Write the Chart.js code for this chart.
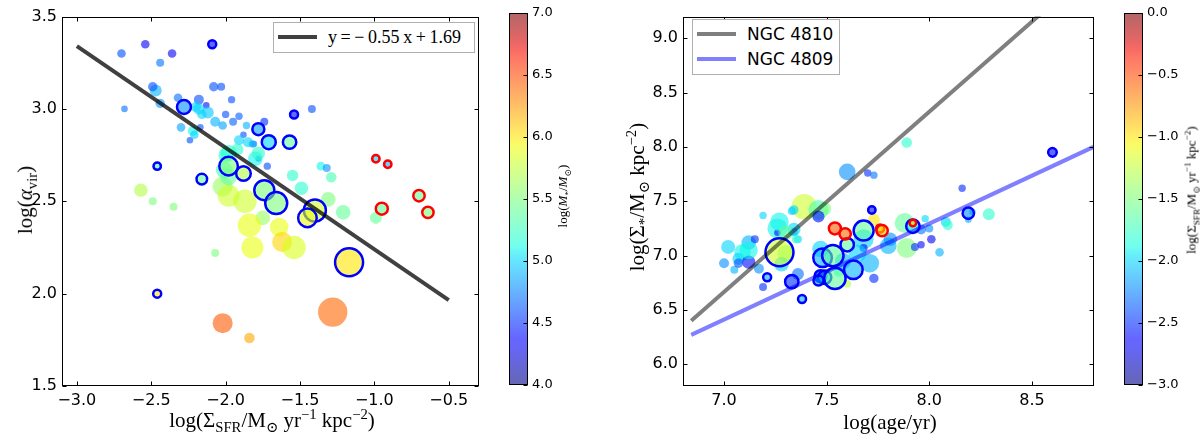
<!DOCTYPE html>
<html>
<head>
<meta charset="utf-8">
<script src="https://cdn.jsdelivr.net/npm/chart.js@4.4.1/dist/chart.umd.min.js"></script>
<style>
  html, body { margin: 0; padding: 0; background: #fff; }
  #fig { position: relative; width: 1200px; height: 436px; overflow: hidden; }
  canvas { position: absolute; top: 0; }
  .lbl { position: absolute; font-family: "Liberation Serif", "DejaVu Serif", serif; color: #000; white-space: nowrap; transform: translate(-50%, -50%); }
  .rot { transform: translate(-50%, -50%) rotate(-90deg); }
  .lbl sub, .lbl sup { font-size: 70%; }
  .legend { position: absolute; background: #fff; border: 1px solid #b0b0b0; box-sizing: border-box; }
  .legend .row { position: absolute; left: 0; right: 0; height: 20px; }
  .legend .swatch { position: absolute; left: 4px; width: 39px; height: 4px; top: 8px; }
  .legend .txt { position: absolute; left: 54px; top: 0; line-height: 20px; white-space: nowrap; }
</style>
</head>
<body>
<div id="fig">
  <canvas id="c1" width="495" height="436" style="left:0px"></canvas>
  <canvas id="cb1" width="105" height="436" style="left:495px"></canvas>
  <canvas id="c2" width="510" height="436" style="left:600px"></canvas>
  <canvas id="cb2" width="90" height="436" style="left:1110px"></canvas>

  <div class="lbl" style="left:272px; top:421px; font-size:21px">log(&Sigma;<sub>SFR</sub>/M<sub>&#8857;</sub> yr<sup>&minus;1</sup> kpc<sup>&minus;2</sup>)</div>
  <div class="lbl rot" style="left:27px; top:200px; font-size:21px">log(<i>&alpha;</i><sub>vir</sub>)</div>
  <div class="lbl rot" style="left:564px; top:196px; font-size:13px">log(<i>M</i><sub>*</sub>/<i>M</i><sub>&#8857;</sub>)</div>

  <div class="lbl" style="left:890px; top:422px; font-size:21px">log(age/yr)</div>
  <div class="lbl rot" style="left:638px; top:197px; font-size:21px">log(&Sigma;<sub>*</sub>/M<sub>&#8857;</sub> kpc<sup>&minus;2</sup>)</div>
  <div class="lbl rot" style="left:1192px; top:190px; font-size:13px">log(&Sigma;<sub>SFR</sub>/M<sub>&#8857;</sub> yr<sup>&minus;1</sup> kpc<sup>&minus;2</sup>)</div>

  <div class="legend" style="left:273px; top:22px; width:202px; height:31px">
    <div class="row" style="top:4px">
      <div class="swatch" style="background:rgba(0,0,0,0.75)"></div>
      <div class="txt" style="font-family:'Liberation Serif',serif; font-size:18px">y&thinsp;=&thinsp;&minus;&thinsp;0.55&thinsp;x&thinsp;+&thinsp;1.69</div>
    </div>
  </div>
  <div class="legend" style="left:692px; top:19px; width:148px; height:56px">
    <div class="row" style="top:4px">
      <div class="swatch" style="background:rgba(0,0,0,0.5)"></div>
      <div class="txt" style="font-family:'DejaVu Sans',sans-serif; font-size:17px">NGC 4810</div>
    </div>
    <div class="row" style="top:29px">
      <div class="swatch" style="background:rgba(0,0,255,0.5)"></div>
      <div class="txt" style="font-family:'DejaVu Sans',sans-serif; font-size:17px">NGC 4809</div>
    </div>
  </div>
</div>

<script>
// ---- left panel: virial parameter vs SFR surface density ----
// edge: 0 = none, 1 = blue ring, 2 = red ring
const sfrX = [-2.70,-2.54,-2.36,-2.44,-2.47,-2.49,-2.68,-2.44,-2.08,-2.03,-1.96,-2.32,-2.18,-2.13,-2.20,-2.12,-2.16,-2.07,-2.02,-2.00,
  -1.95,-1.91,-1.74,-1.86,-2.30,-2.22,-2.17,-2.24,-2.21,-2.18,-1.88,-1.81,-1.85,-1.91,-1.82,-1.92,-2.00,-1.78,-1.80,-1.72,
  -1.78,-1.98,-1.42,-1.36,-1.32,-1.29,-1.55,-1.49,-1.31,-1.21,-0.99,-2.57,-2.49,-2.35,-2.02,-1.98,-1.87,-2.01,-1.98,-1.75,
  -1.84,-1.64,-1.62,-1.82,-1.54,-2.07,-2.02,-1.84,-1.28,
  -2.09,-2.28,-1.78,-1.71,-1.57,-1.54,-2.46,-2.16,-1.98,-1.88,-1.74,-1.66,-1.40,-1.45,-2.46,-1.17,
  -0.99,-0.91,-0.95,-0.70,-0.64];
const alphaVir = [3.30,3.35,3.30,3.25,3.10,3.12,3.00,3.03,3.12,3.12,3.05,3.06,3.05,3.02,3.01,2.98,2.97,2.93,2.91,2.97,
  2.93,2.96,2.93,2.91,2.90,2.88,2.90,2.83,2.86,3.00,2.86,2.81,2.82,2.83,2.81,2.78,2.75,2.73,2.73,2.69,
  2.76,2.76,3.00,2.69,2.68,2.63,2.64,2.57,2.51,2.44,2.41,2.56,2.50,2.47,2.58,2.53,2.50,2.67,2.63,2.41,
  2.37,2.36,2.28,2.25,2.25,2.22,1.84,1.76,1.90,
  3.35,3.01,2.89,2.82,2.82,2.97,2.69,2.62,2.69,2.65,2.56,2.49,2.45,2.41,2.00,2.17,
  2.73,2.70,2.46,2.53,2.44];
const massL = [4.6,4.3,4.3,4.7,4.9,4.6,4.7,4.8,4.6,4.6,4.6,4.7,4.6,4.4,5.0,4.95,5.0,4.9,4.85,4.6,
  4.65,4.65,4.5,4.9,4.85,5.1,4.6,4.6,5.0,5.0,4.6,4.7,5.0,5.0,4.9,5.2,5.2,4.6,5.1,4.6,
  5.2,5.2,4.6,5.1,4.8,5.3,5.2,5.2,5.5,5.4,5.4,5.7,5.5,5.5,5.6,5.8,5.8,5.3,5.4,5.6,
  5.9,5.9,6.05,5.9,5.85,5.5,6.45,6.2,6.4,
  4.3,4.8,4.85,5.0,5.4,4.4,5.3,5.4,5.5,5.7,5.5,5.5,5.8,5.9,6.0,6.0,
  5.0,4.9,5.4,5.4,5.5];
const bubbleL = [4.3,4.3,4.3,4.0,6.0,4.7,3.3,4.7,4.7,4.0,3.7,4.3,5.0,3.3,5.0,6.0,4.7,5.0,4.3,3.7,
  4.0,3.7,4.0,3.7,4.3,5.0,3.3,3.3,4.3,5.7,3.3,3.3,5.0,5.0,3.7,6.0,7.3,3.0,7.3,3.7,
  6.7,8.3,4.0,4.3,4.0,5.3,5.7,6.7,7.3,7.3,6.0,6.7,4.0,4.0,10.0,11.0,11.7,8.3,8.3,7.3,
  11.7,9.3,10.0,11.0,11.7,4.0,10.0,5.3,14.7,
  4.0,7.0,6.0,7.0,6.7,4.0,3.7,5.3,9.3,7.3,10.0,11.0,11.0,9.3,4.0,14.0,
  3.7,3.7,6.0,5.7,5.7];
const edgeL = [0,0,0,0,0,0,0,0,0,0,0,0,0,0,0,0,0,0,0,0,
  0,0,0,0,0,0,0,0,0,0,0,0,0,0,0,0,0,0,0,0,
  0,0,0,0,0,0,0,0,0,0,0,0,0,0,0,0,0,0,0,0,
  0,0,0,0,0,0,0,0,0,
  1,1,1,1,1,1,1,1,1,1,1,1,1,1,1,1,
  2,2,2,2,2];
const fitSlope = -0.55, fitIntercept = 1.69;
const fitRange = [-3.0, -0.5];
const xTicksL = [-3.0, -2.5, -2.0, -1.5, -1.0, -0.5];
const yTicksL = [1.5, 2.0, 2.5, 3.0, 3.5];
const cbTicksL = [4.0, 4.5, 5.0, 5.5, 6.0, 6.5, 7.0];

// ---- right panel: stellar surface density vs age ----
const ageX = [7.60,7.70,7.73,7.39,7.46,7.49,7.46,7.34,7.19,7.26,7.34,7.36,7.26,7.12,7.15,7.09,7.30,7.07,7.05,7.12,
  7.17,7.19,7.36,7.73,7.68,7.56,7.60,7.73,7.68,7.80,7.81,7.88,7.89,8.16,8.21,8.19,8.29,7.98,8.00,7.96,
  7.96,8.01,7.93,8.08,8.09,8.05,7.71,7.33,7.34,7.35,7.27,7.30,7.28,7.47,7.89,7.07,
  7.02,7.12,7.58,7.65,7.00,
  7.27,7.21,7.33,7.38,7.72,7.68,7.60,7.48,7.53,7.47,7.49,7.46,7.54,7.63,7.92,8.19,8.60,
  7.54,7.59,7.76,7.77,7.92];
const sigmaStar = [7.77,7.76,7.74,7.45,7.42,7.43,7.36,7.42,7.37,7.25,7.24,7.15,7.21,7.12,7.15,7.03,7.02,6.97,6.87,6.94,
  6.88,6.71,6.83,7.33,7.15,6.85,6.74,6.79,7.07,7.09,7.15,7.30,7.07,7.62,7.40,7.33,7.38,7.34,7.25,7.24,
  7.10,7.15,7.08,7.31,7.28,7.03,6.93,7.41,7.22,7.15,7.31,7.21,6.92,7.06,8.04,6.93,
  7.08,7.05,6.95,7.02,6.93,
  7.03,6.80,6.76,6.60,7.42,7.23,7.10,6.98,7.00,6.81,6.80,6.77,6.79,6.87,7.27,7.39,7.95,
  7.25,7.20,7.25,7.23,7.30];
const sfrR = [-2.2,-2.5,-2.3,-1.2,-1.7,-1.5,-2.6,-2.0,-2.0,-1.9,-2.0,-2.0,-2.6,-2.1,-2.5,-1.9,-1.5,-2.0,-2.1,-2.6,
  -2.2,-2.5,-2.3,-1.0,-2.0,-1.8,-1.3,-2.5,-2.6,-2.1,-2.2,-1.6,-1.5,-2.5,-2.1,-2.1,-1.8,-2.0,-2.2,-2.3,
  -2.6,-2.7,-2.5,-2.0,-1.8,-2.1,-2.1,-2.0,-2.1,-1.8,-1.9,-1.6,-2.0,-2.0,-1.8,-2.4,
  -2.0,-1.9,-2.1,-2.0,-2.2,
  -1.2,-2.1,-2.5,-2.1,-2.6,-1.6,-1.6,-2.1,-1.6,-2.1,-2.0,-2.2,-1.6,-2.1,-1.9,-2.2,-2.6,
  -0.55,-0.6,-1.0,-0.9,-1.0];
const bubbleR = [8.3,3.7,3.7,12.7,10.0,6.7,6.0,4.7,3.7,10.0,6.7,4.0,3.3,7.3,4.0,8.3,8.3,6.0,4.0,6.7,
  5.0,4.0,6.0,6.0,10.0,5.0,4.0,4.7,4.0,8.3,6.7,10.0,10.0,3.7,3.3,3.3,6.0,3.7,4.0,5.0,
  3.7,4.3,4.0,5.0,5.0,4.3,9.3,4.0,4.0,4.0,9.3,7.3,7.3,8.3,5.3,4.7,
  7.0,9.0,8.0,9.0,5.0,
  14.0,4.0,6.7,4.0,3.7,10.0,6.7,9.3,10.7,6.0,6.7,5.0,10.7,9.3,6.7,5.7,4.3,
  6.0,5.7,4.0,5.7,3.3];
const edgeR = [0,0,0,0,0,0,0,0,0,0,0,0,0,0,0,0,0,0,0,0,
  0,0,0,0,0,0,0,0,0,0,0,0,0,0,0,0,0,0,0,0,
  0,0,0,0,0,0,0,0,0,0,0,0,0,0,0,0,
  0,0,0,0,0,
  1,1,1,1,1,1,1,1,1,1,1,1,1,1,1,1,1,
  2,2,2,2,2];
const ngc4810X = [6.84, 8.80], ngc4810Y = [6.40, 9.65];
const ngc4809X = [6.84, 8.80], ngc4809Y = [6.27, 8.00];
const xTicksR = [7.0, 7.5, 8.0, 8.5];
const yTicksR = [6.0, 6.5, 7.0, 7.5, 8.0, 8.5, 9.0];
const cbTicksR = [-3.0, -2.5, -2.0, -1.5, -1.0, -0.5, 0.0];

// matplotlib "jet" segments
const jetSeg = {
  r: [[0,0],[0.35,0],[0.66,1],[0.89,1],[1,0.5]],
  g: [[0,0],[0.125,0],[0.375,1],[0.64,1],[0.91,0],[1,0]],
  b: [[0,0.5],[0.11,1],[0.34,1],[0.65,0],[1,0]]
};
function segVal(seg, t) {
  for (let i = 1; i < seg.length; i++) {
    if (t <= seg[i][0]) {
      const [x0, y0] = seg[i - 1], [x1, y1] = seg[i];
      return y0 + (y1 - y0) * (t - x0) / (x1 - x0);
    }
  }
  return seg[seg.length - 1][1];
}
function jet(t, a) {
  t = Math.max(0, Math.min(1, t));
  const r = Math.round(segVal(jetSeg.r, t) * 255);
  const g = Math.round(segVal(jetSeg.g, t) * 255);
  const b = Math.round(segVal(jetSeg.b, t) * 255);
  return `rgba(${r},${g},${b},${a})`;
}
const fmt = v => (v < 0 ? '\u2212' : '') + Math.abs(v).toFixed(1);

Chart.defaults.font.family = "'DejaVu Sans', sans-serif";
Chart.defaults.color = '#000';

// frame + inward ticks like matplotlib
const frameTicks = {
  id: 'frameTicks',
  afterDatasetsDraw(chart, args, opts) {
    const { ctx, chartArea: a } = chart;
    const L = Math.round(a.left) + 0.5, R = Math.round(a.right) - 0.5;
    const T = Math.round(a.top) + 0.5, B = Math.round(a.bottom) - 0.5;
    ctx.save();
    ctx.strokeStyle = '#000';
    ctx.lineWidth = 1;
    ctx.beginPath();
    const len = 4;
    if (opts.xTicks) {
      const xs = chart.scales.x;
      opts.xTicks.forEach(v => {
        const p = Math.round(xs.getPixelForValue(v)) + 0.5;
        ctx.moveTo(p, B); ctx.lineTo(p, B - len);
        ctx.moveTo(p, T); ctx.lineTo(p, T + len);
      });
    }
    if (opts.yTicks) {
      const ys = chart.scales.y;
      opts.yTicks.forEach(v => {
        const p = Math.round(ys.getPixelForValue(v)) + 0.5;
        if (!opts.rightOnly) { ctx.moveTo(L, p); ctx.lineTo(L + len, p); }
        ctx.moveTo(R, p); ctx.lineTo(R - len, p);
      });
    }
    ctx.stroke();
    ctx.strokeRect(L, T, R - L, B - T);
    ctx.restore();
  }
};

function pointSets(xs, ys, cs, rs, es, lo, hi) {
  const pts = xs.map((x, i) => ({ x, y: ys[i], c: cs[i], r: rs[i], e: es[i] }));
  const make = (edge, order) => ({
    data: pts.filter(p => p.e === edge),
    order,
    clip: 0,
    pointRadius: c => c.raw ? c.raw.r : 0,
    pointBackgroundColor: c => c.raw ? jet((c.raw.c - lo) / (hi - lo), 0.6) : 'transparent',
    pointBorderColor: edge === 1 ? '#0000ff' : (edge === 2 ? '#ff0000' : 'rgba(0,0,0,0)'),
    pointBorderWidth: edge ? 2.5 : 0,
    pointHoverRadius: c => c.raw ? c.raw.r : 0
  });
  return [make(0, 3), make(1, 2), make(2, 1)];
}

function lineSet(xs, ys, color) {
  return {
    type: 'line',
    data: xs.map((x, i) => ({ x, y: ys[i] })),
    borderColor: color,
    borderWidth: 4,
    pointRadius: 0,
    showLine: true,
    fill: false,
    clip: 0,
    order: 0
  };
}

function scatterChart(id, datasets, xr, yr, xTicks, yTicks, yWidth, padRight) {
  return new Chart(document.getElementById(id), {
    type: 'scatter',
    data: { datasets },
    options: {
      responsive: false,
      animation: false,
      events: [],
      layout: { padding: { top: 13, right: padRight, bottom: 0, left: 0 } },
      plugins: { legend: { display: false }, tooltip: { enabled: false }, frameTicks: { xTicks, yTicks } },
      scales: {
        x: {
          type: 'linear', min: xr[0], max: xr[1],
          grid: { display: false, drawTicks: false }, border: { display: false },
          afterBuildTicks: s => { s.ticks = xTicks.map(v => ({ value: v })); },
          afterFit: s => { s.height = 50; },
          ticks: { font: { size: 16 }, padding: 5, maxRotation: 0, autoSkip: false, callback: v => fmt(v) }
        },
        y: {
          type: 'linear', min: yr[0], max: yr[1],
          grid: { display: false, drawTicks: false }, border: { display: false },
          afterBuildTicks: s => { s.ticks = yTicks.map(v => ({ value: v })); },
          afterFit: s => { s.width = yWidth; },
          ticks: { font: { size: 16 }, padding: 5, autoSkip: false, callback: v => fmt(v) }
        }
      }
    },
    plugins: [frameTicks]
  });
}

function colorbar(id, lo, hi, ticks, yWidth) {
  return new Chart(document.getElementById(id), {
    type: 'bar',
    data: {
      labels: [''],
      datasets: [{
        data: [[lo, hi]],
        borderWidth: 0,
        barPercentage: 1,
        categoryPercentage: 1,
        backgroundColor: c => {
          const a = c.chart.chartArea;
          if (!a) return 'transparent';
          const g = c.chart.ctx.createLinearGradient(0, a.bottom, 0, a.top);
          for (let i = 0; i <= 40; i++) g.addColorStop(i / 40, jet(i / 40, 0.6));
          return g;
        }
      }]
    },
    options: {
      responsive: false,
      animation: false,
      events: [],
      layout: { padding: { top: 13, right: 0, bottom: 51, left: 14 } },
      plugins: { legend: { display: false }, tooltip: { enabled: false }, frameTicks: { yTicks: ticks, rightOnly: true } },
      scales: {
        x: { display: false },
        y: {
          position: 'right', min: lo, max: hi,
          grid: { display: false, drawTicks: false }, border: { display: false },
          afterBuildTicks: s => { s.ticks = ticks.map(v => ({ value: v })); },
          afterFit: s => { s.width = yWidth; },
          ticks: { font: { size: 13 }, padding: 4, autoSkip: false, callback: v => fmt(v) }
        }
      }
    },
    plugins: [frameTicks]
  });
}

scatterChart('c1',
  [...pointSets(sfrX, alphaVir, massL, bubbleL, edgeL, 4, 7),
   lineSet(fitRange, fitRange.map(x => fitSlope * x + fitIntercept), 'rgba(0,0,0,0.75)')],
  [-3.1, -0.3], [1.5, 3.5], xTicksL, yTicksL, 62, 13);
colorbar('cb1', 4, 7, cbTicksL, 72);

scatterChart('c2',
  [...pointSets(ageX, sigmaStar, sfrR, bubbleR, edgeR, -3, 0),
   lineSet(ngc4810X, ngc4810Y, 'rgba(0,0,0,0.5)'),
   lineSet(ngc4809X, ngc4809Y, 'rgba(0,0,255,0.5)')],
  [6.8, 8.8], [5.8, 9.2], xTicksR, yTicksR, 83, 12);
colorbar('cb2', -3, 0, cbTicksR, 57);
</script>
</body>
</html>
